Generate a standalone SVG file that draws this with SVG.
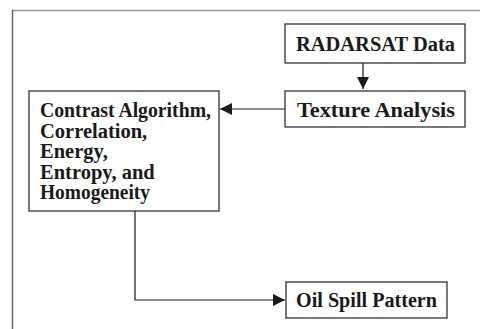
<svg xmlns="http://www.w3.org/2000/svg" width="480" height="329" viewBox="0 0 480 329">
<style>
.box{fill:#fff;stroke:#222;stroke-width:1.2}
.t{font-family:"Liberation Serif","Times New Roman",serif;font-weight:bold;font-size:20.5px;fill:#1a1a1a}
.c{fill:none;stroke:#1a1a1a;stroke-width:1.2}
</style>
<defs>
<marker id="ah" viewBox="0 0 10 10" refX="10" refY="5" markerWidth="12" markerHeight="12" markerUnits="userSpaceOnUse" orient="auto">
<path d="M0,0 L10,5 L0,10 z" fill="#1a1a1a"/>
</marker>
</defs>
<rect width="480" height="329" fill="#fff"/>
<g id="frame">
<line x1="12" y1="10.5" x2="480" y2="10.5" stroke="#999" stroke-width="1.5"/>
<line x1="12.5" y1="10" x2="12.5" y2="329" stroke="#666" stroke-width="1.5"/>
</g>
<g id="connectors">
<line class="c" x1="363" y1="63" x2="363" y2="89" marker-end="url(#ah)"/>
<line class="c" x1="285" y1="109" x2="220" y2="109" marker-end="url(#ah)"/>
<polyline class="c" points="135,211 135,300 285,300" marker-end="url(#ah)"/>
</g>
<g id="radarsat">
<rect class="box" x="285" y="24" width="180" height="39"/>
<text class="t" x="296" y="51" textLength="159" lengthAdjust="spacingAndGlyphs">RADARSAT Data</text>
</g>
<g id="texture">
<rect class="box" x="285" y="91" width="180" height="36"/>
<text class="t" x="297" y="116.5" textLength="158" lengthAdjust="spacingAndGlyphs">Texture Analysis</text>
</g>
<g id="contrast">
<rect class="box" x="29" y="91" width="190" height="120"/>
<text class="t" x="40" y="117" textLength="171" lengthAdjust="spacingAndGlyphs">Contrast Algorithm,</text>
<text class="t" x="40" y="137.5">Correlation,</text>
<text class="t" x="40" y="158">Energy,</text>
<text class="t" x="40" y="178.5">Entropy, and</text>
<text class="t" x="40" y="199" textLength="110" lengthAdjust="spacingAndGlyphs">Homogeneity</text>
</g>
<g id="oilspill">
<rect class="box" x="286" y="282" width="161" height="36"/>
<text class="t" x="296" y="307" textLength="141" lengthAdjust="spacingAndGlyphs">Oil Spill Pattern</text>
</g>
</svg>
